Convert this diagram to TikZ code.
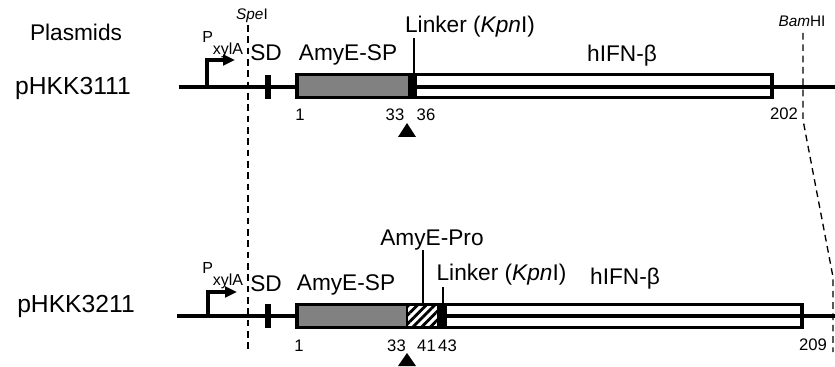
\documentclass[tikz,border=0pt]{standalone}
\usepackage{fontspec}
\setmainfont{Liberation Sans}
\usetikzlibrary{arrows.meta, positioning, patterns.meta}

\begin{document}
\begin{tikzpicture}[x=0.75pt, y=-0.75pt,
  lbl/.style={inner sep=0pt, anchor=base, font=\fontsize{17}{20}\selectfont},
  pname/.style={inner sep=0pt, anchor=base, font=\fontsize{18.5}{22}\selectfont},
  num/.style={inner sep=0pt, anchor=base, font=\fontsize{12.5}{15}\selectfont},
  site/.style={inner sep=0pt, anchor=base, font=\fontsize{11.5}{14}\selectfont},
  prom/.style={inner sep=0pt, anchor=base west, font=\fontsize{12}{14}\selectfont},
  dna/.style={line width=2.5pt},
  frame/.style={draw, line width=2.5pt},
  signal/.style={pattern={Dots[distance=1.5pt, radius=0.6pt]}, pattern color=black},
  propep/.style={pattern={Lines[angle=45, distance=4.6pt, line width=2.1pt]}},
  cut/.style={line width=1pt, dash pattern=on 5pt off 3.5pt},
  lead/.style={line width=0.9pt},
  promarrow/.style={line width=2.5pt, -{Triangle[length=9pt, width=8pt]}}
]
  \useasboundingbox (0,0) rectangle (835,367);

  % restriction sites
  \coordinate (spe-top) at (248,25);
  \coordinate (spe-bot) at (248,352);
  \draw[cut] (spe-top) -- (spe-bot);
  \coordinate (bam-top) at (803,33);
  \coordinate (bam-a) at (803,120);
  \coordinate (bam-b) at (833,277);
  \coordinate (bam-bot) at (833,352);
  \draw[cut] (bam-top) -- (bam-a) -- (bam-b) -- (bam-bot);
  \node[site] (spe) at (252,20) {\textit{Spe}I};
  \node[site] (bam) at (802,27) {\textit{Bam}HI};

  \node[lbl] (plasmids) at (76,41) {Plasmids};

  % pHKK3111
  \node[pname] (p3111) at (73,95) {pHKK3111};
  \draw[dna] (179,87) -- (835,87);
  \coordinate (tss1) at (207,87);
  \draw[promarrow] (tss1) -- ++(0,-27) -- ++(28,0);
  \node[prom] (pxyl1) at (202,43) {P\raisebox{-9pt}{xylA}};
  \fill (265,75) rectangle (271,99);
  \node[lbl] (sd1) at (266,61) {SD};
  \fill[white] (297,74.5) rectangle (408,97.5);
  \fill[signal] (297,74.5) rectangle (408,97.5);
  \fill (408,74.5) rectangle (417,97.5);
  \draw[frame] (297,74.5) rectangle (772,97.5);
  \node[lbl] (sp1) at (348,61) {AmyE-SP};
  \node[lbl] (ifn1) at (622,62) {hIFN-β};
  \node[lbl] (lnk1) at (470,33) {Linker (\textit{Kpn}I)};
  \coordinate (lnkpos1) at (414,73.5);
  \draw[lead] (lnkpos1) -- (lnkpos1 |- lnk1.south);
  \node[num] (n1a) at (300,121) {1};
  \node[num] (n1b) at (395,121) {33};
  \node[num] (n1c) at (426,121) {36};
  \node[num] (n1d) at (784,120) {202};
  \fill (407,123) -- (416,137) -- (398,137) -- cycle;

  % pHKK3211
  \node[pname] (p3211) at (76,312) {pHKK3211};
  \draw[dna] (177,316) -- (835,316);
  \coordinate (tss2) at (208,316);
  \draw[promarrow] (tss2) -- ++(0,-24) -- ++(29,0);
  \node[prom] (pxyl2) at (202,273) {P\raisebox{-9pt}{xylA}};
  \fill (265,304) rectangle (271,328);
  \node[lbl] (sd2) at (266,291) {SD};
  \fill[white] (297,304.5) rectangle (437,327.5);
  \fill[signal] (297,304.5) rectangle (407,327.5);
  \fill[propep] (407,304.5) rectangle (437,327.5);
  \fill (437,304.5) rectangle (447,327.5);
  \draw[frame] (297,304.5) rectangle (802,327.5);
  \draw[line width=1pt] (407,304.5) -- (407,327.5);
  \node[lbl] (sp2) at (346,290) {AmyE-SP};
  \node[lbl] (ifn2) at (625,284) {hIFN-β};
  \node[lbl] (pro2) at (432,245) {AmyE-Pro};
  \node[lbl] (lnk2) at (501.5,280) {Linker (\textit{Kpn}I)};
  \coordinate (propos2) at (423,303.5);
  \coordinate (lnkpos2) at (443,303.5);
  \draw[lead] (propos2) -- (propos2 |- pro2.south);
  \draw[lead] (lnkpos2) -- ([yshift=-1.5pt]lnkpos2 |- lnk2.south);
  \node[num] (n2a) at (299,351) {1};
  \node[num] (n2b) at (396.5,351) {33};
  \node[num] (n2c) at (426.5,351) {41};
  \node[num] (n2d) at (447.5,351) {43};
  \node[num] (n2e) at (813,350) {209};
  \fill (407,353) -- (416,366) -- (398,366) -- cycle;
\end{tikzpicture}
\end{document}
